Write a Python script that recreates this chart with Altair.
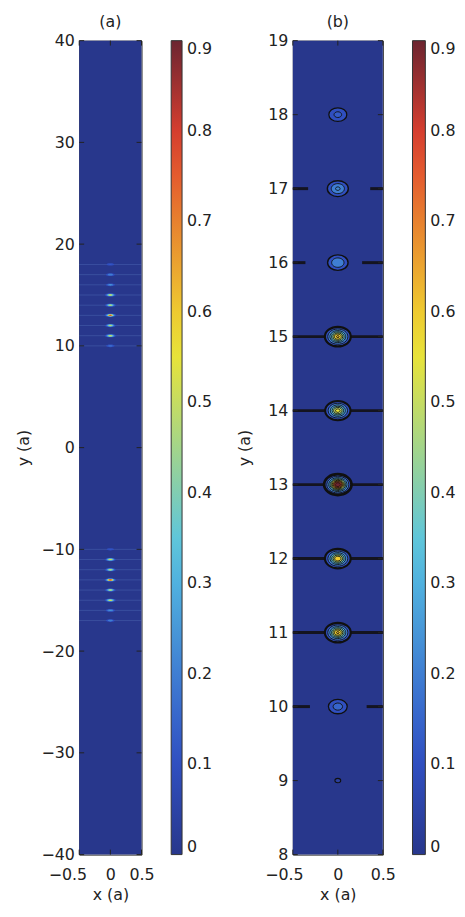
import math
import altair as alt
import pandas as pd

# ---------------- data ----------------
# panel (a): bright rows (y in lattice constants) and their peak intensity
rows_a = [-17, -16, -15, -14, -13, -12, -11, -10, 10, 11, 12, 13, 14, 15, 16, 17, 18]
peaks_a = [0.20, 0.25, 0.55, 0.50, 0.80, 0.50, 0.55, 0.12,
           0.18, 0.55, 0.50, 0.80, 0.50, 0.55, 0.25, 0.20, 0.12]

# panel (b): zoom on the upper cavity
rows_b = [9, 10, 11, 12, 13, 14, 15, 16, 17, 18]
peaks_b = [0.035, 0.15, 0.62, 0.60, 0.90, 0.55, 0.62, 0.20, 0.22, 0.13]
spot_x = 0.0

# panel (b): dark contour streaks along the rows (left part ends / right part starts)
line_rows_b = [10, 11, 12, 13, 14, 15, 16, 17]
line_left_end_b = [-0.31, -0.12, -0.12, -0.12, -0.12, -0.12, -0.36, -0.33]
line_right_start_b = [0.32, 0.13, 0.13, 0.13, 0.13, 0.13, 0.27, 0.36]

contour_levels = [0.03, 0.1, 0.2, 0.3, 0.4, 0.5, 0.6, 0.7, 0.8, 0.9]
cbar_ticks = [0, 0.1, 0.2, 0.3, 0.4, 0.5, 0.6, 0.7, 0.8, 0.9]
yticks_a = [-40, -30, -20, -10, 0, 10, 20, 30, 40]
yticks_b = [8, 9, 10, 11, 12, 13, 14, 15, 16, 17, 18, 19]
xticks = [-0.5, 0, 0.5]

# jet colour map (as printed) over the colour axis 0 .. 0.9
jet_domain = [0, 0.1125, 0.3375, 0.5625, 0.7875, 0.9]
jet_range = ["#28378c", "#3152c6", "#56c4e4", "#f0e530", "#e2412f", "#6c2530"]

FONT = "DejaVu Sans"
TXT = "#222222"
H = 823


def ring_table(rows, peaks, d0):
    out = []
    for y, p in zip(rows, peaks):
        lv = [L for L in contour_levels if L < p]
        for i, L in enumerate(lv):
            nxt = contour_levels[contour_levels.index(L) + 1]
            d = d0 * math.sqrt(math.log(p / L))
            out.append(dict(x=spot_x, y=y, fill=min(nxt, p), size=d * d,
                            sw=(1.0 + 2.0 * p) if i == 0 else 0.9, order=-d))
    return pd.DataFrame(out)


cscale = alt.Scale(domain=jet_domain, range=jet_range, type="linear",
                   clamp=True, interpolate="rgb")


def legend(offset, thick):
    return alt.Legend(title=None, orient="right", offset=offset, direction="vertical",
                      gradientLength=H, gradientThickness=thick, values=cbar_ticks,
                      format="~g", labelFontSize=16, labelFont=FONT, labelColor=TXT,
                      labelOffset=5, labelBaseline="middle", labelOverlap=False,
                      gradientStrokeColor="#333333", gradientStrokeWidth=1)


def panel(title, W, ydom, yticks, rings, ellipse, stroked, xoff, leg_off, leg_thick,
          lines=None, faint_rows=None, title_pad=10):
    xs = alt.Scale(domain=[-0.5, 0.5], nice=False, zero=False)
    ys = alt.Scale(domain=ydom, nice=False, zero=False)
    xaxis = alt.Axis(values=xticks, title="x (a)", labelFlush=False, labelPadding=12,
                     format="~g", titlePadding=4,
                     labelOffset={"condition": {"test": "datum.value < 0", "value": xoff}, "value": 0})
    yaxis = alt.Axis(values=yticks, title="y (a)", labelPadding=5,
                     titlePadding=title_pad, labelFlush=False)
    lg = legend(leg_off, leg_thick)

    bg = alt.Chart(pd.DataFrame({"v": [0.0]})).mark_rect().encode(
        x=alt.value(0), x2=alt.value(W), y=alt.value(0), y2=alt.value(H),
        color=alt.Color("v:Q", scale=cscale, legend=lg))

    layers = [bg]
    if faint_rows is not None:
        layers.append(alt.Chart(pd.DataFrame({"y": faint_rows})).mark_rule(
            color="#5a7cc0", opacity=0.35, strokeWidth=1).encode(
            x=alt.value(0), x2=alt.value(W), y=alt.Y("y:Q", scale=ys, axis=yaxis)))
    if lines is not None:
        layers.append(alt.Chart(lines).mark_rule(color="#141420", strokeWidth=3).encode(
            x=alt.X("x1:Q", scale=xs, axis=xaxis), x2="x2:Q",
            y=alt.Y("y:Q", scale=ys, axis=yaxis)))

    pt = alt.Chart(rings).mark_point(filled=True, shape=ellipse, opacity=1,
                                     stroke="#101010" if stroked else None,
                                     strokeOpacity=1 if stroked else 0).encode(
        x=alt.X("x:Q", scale=xs, axis=xaxis),
        y=alt.Y("y:Q", scale=ys, axis=yaxis),
        color=alt.Color("fill:Q", scale=cscale, legend=lg),
        size=alt.Size("size:Q", scale=None),
        strokeWidth=alt.StrokeWidth("sw:Q", scale=None),
        order=alt.Order("order:Q"))
    layers.append(pt)

    # inside tick marks (MATLAB style) on all four sides
    tk_y = pd.DataFrame({"t": yticks})
    tk_x = pd.DataFrame({"t": xticks})
    tcol = "#222222"
    layers += [
        alt.Chart(tk_y).mark_rule(color=tcol, strokeWidth=1).encode(
            x=alt.value(0), x2=alt.value(5), y=alt.Y("t:Q", scale=ys, axis=yaxis)),
        alt.Chart(tk_y).mark_rule(color=tcol, strokeWidth=1).encode(
            x=alt.value(W - 5), x2=alt.value(W), y=alt.Y("t:Q", scale=ys, axis=yaxis)),
        alt.Chart(tk_x).mark_rule(color=tcol, strokeWidth=1).encode(
            y=alt.value(H - 5), y2=alt.value(H), x=alt.X("t:Q", scale=xs, axis=xaxis)),
        alt.Chart(tk_x).mark_rule(color=tcol, strokeWidth=1).encode(
            y=alt.value(0), y2=alt.value(5), x=alt.X("t:Q", scale=xs, axis=xaxis)),
    ]
    return alt.layer(*layers).properties(
        width=W, height=H,
        title=alt.TitleParams(text=title, fontSize=16, font=FONT, fontWeight="normal",
                              color=TXT, anchor="middle", frame="group", offset=3))


ELL_A = "M-1,0A1,0.3,0,1,1,1,0A1,0.3,0,1,1,-1,0Z"
ELL_B = "M-1,0A1,0.76,0,1,1,1,0A1,0.76,0,1,1,-1,0Z"

rings_a = ring_table(rows_a, peaks_a, 6.5)
rings_b = ring_table(rows_b, peaks_b, 15.0)

seg = []
for y, le, rs in zip(line_rows_b, line_left_end_b, line_right_start_b):
    seg.append(dict(y=y, x1=-0.5, x2=le))
    seg.append(dict(y=y, x1=rs, x2=0.5))
lines_b = pd.DataFrame(seg)

pa = panel("(a)", 63, [-40, 40], yticks_a, rings_a, ELL_A, False, -12, 30, 11,
           faint_rows=rows_a, title_pad=10)
pb = panel("(b)", 91, [8, 19], yticks_b, rings_b, ELL_B, True, -9, 30, 13,
           lines=lines_b, title_pad=15)

chart = alt.hconcat(pa, pb, spacing=23).resolve_scale(color="independent").properties(
    padding={"left": 6, "top": 0, "right": 0, "bottom": 0},
    background="white"
).configure_view(stroke="#222222", strokeWidth=1).configure_axis(
    labelFont=FONT, titleFont=FONT, labelFontSize=16, titleFontSize=16,
    titleFontWeight="normal", labelColor=TXT, titleColor=TXT,
    grid=False, domain=False, ticks=False
)

chart.save("out.html", embed_options={"renderer": "svg", "actions": False})
